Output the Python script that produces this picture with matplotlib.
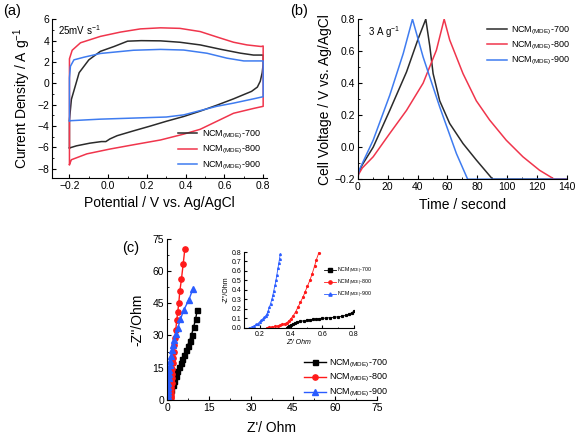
import matplotlib.pyplot as plt
import numpy as np
from matplotlib.ticker import MultipleLocator

plt.rcParams['font.family'] = ['Liberation Sans', 'DejaVu Sans']
plt.rcParams['mathtext.fontset'] = 'custom'
plt.rcParams['mathtext.rm'] = 'Liberation Sans'
plt.rcParams['mathtext.it'] = 'Liberation Sans:italic'
plt.rcParams['axes.linewidth'] = 0.8

# ---- colours / labels ----
names = ['NCM$_{\\rm (MDE)}$-700', 'NCM$_{\\rm (MDE)}$-800', 'NCM$_{\\rm (MDE)}$-900']
c_line = ['#2b2b2b', '#f0354c', '#3f7cf0']
c_mark = ['#000000', '#ff1a1a', '#2a5cff']

# ---- (a) CV at 25 mV/s : closed loops (potential, current) ----
cv700_x = [-0.2, -0.2, -0.19, -0.17, -0.15, -0.1, -0.04, 0.03, 0.1, 0.17, 0.27, 0.37, 0.475, 0.578, 0.682, 0.75, 0.8,
           0.8, 0.795, 0.785, 0.77, 0.74, 0.7, 0.647, 0.56, 0.475, 0.39, 0.30, 0.217, 0.13, 0.046, 0.009, -0.012,
           -0.035, -0.095, -0.164, -0.2]
cv700_y = [-6.05, -3.4, -1.5, -0.25, 1.0, 2.2, 3.0, 3.45, 3.95, 4.0, 3.98, 3.85, 3.6, 3.2, 2.83, 2.65, 2.65,
           1.8, 1.0, 0.2, -0.35, -0.75, -1.05, -1.45, -2.05, -2.6, -3.1, -3.55, -4.0, -4.45, -4.9, -5.2, -5.45,
           -5.45, -5.6, -5.85, -6.05]
cv800_x = [-0.2, -0.2, -0.186, -0.143, -0.04, 0.063, 0.166, 0.27, 0.37, 0.475, 0.56, 0.647, 0.716, 0.79, 0.8,
           0.8, 0.75, 0.647, 0.561, 0.475, 0.39, 0.27, 0.13, 0.009, -0.11, -0.19, -0.2]
cv800_y = [-7.6, 2.3, 3.1, 3.8, 4.4, 4.8, 5.1, 5.2, 5.15, 4.85, 4.35, 3.85, 3.6, 3.45, 3.5,
           -2.15, -2.35, -2.8, -3.55, -4.3, -4.75, -5.3, -5.75, -6.15, -6.6, -7.15, -7.6]
cv900_x = [-0.2, -0.2, -0.195, -0.177, -0.125, -0.04, 0.13, 0.27, 0.39, 0.51, 0.613, 0.70, 0.8,
           0.8, 0.75, 0.647, 0.56, 0.475, 0.39, 0.30, 0.13, -0.04, -0.2]
cv900_y = [-3.5, 0.5, 1.6, 2.2, 2.45, 2.8, 3.1, 3.18, 3.12, 2.82, 2.36, 2.1, 2.1,
           -1.25, -1.45, -1.85, -2.15, -2.55, -2.95, -3.15, -3.25, -3.35, -3.5]

# ---- (b) galvanostatic charge/discharge at 3 A/g ----
gcd700_t = [0, 0.5, 3, 10.3, 21.4, 32.6, 40.5, 45.5, 48.2, 50.4, 54.8, 61.5, 70.4, 79.3, 90.2, 140]
gcd700_v = [-0.2, -0.16, -0.11, 0.0, 0.23, 0.47, 0.68, 0.8, 0.63, 0.46, 0.29, 0.148, 0.023, -0.08, -0.2, -0.2]
gcd800_t = [0, 0.5, 3, 10.3, 21.4, 32.6, 43.7, 52.6, 57.8, 61.5, 70.4, 79.3, 88.2, 99.3, 110.5, 121.6, 131.5, 140]
gcd800_v = [-0.2, -0.17, -0.13, -0.06, 0.086, 0.23, 0.4, 0.606, 0.8, 0.67, 0.46, 0.29, 0.17, 0.044, -0.06, -0.144,
            -0.2, -0.2]
gcd900_t = [0, 0.5, 1.1, 10.3, 21.4, 30.4, 36.6, 43.7, 54.8, 66.0, 73.5, 140]
gcd900_v = [-0.2, -0.16, -0.14, 0.044, 0.325, 0.585, 0.8, 0.564, 0.252, -0.04, -0.2, -0.2]

# ---- (c) Nyquist plot (Z', -Z'') ----
eis700_x = [0.45, 0.72, 1.08, 1.56, 2.04, 2.64, 3.12, 3.72, 4.32, 4.92, 5.52, 6.12, 6.72, 7.32, 8.04, 8.76,
            9.48, 10.2, 10.8]
eis700_y = [0.0, 0.8, 2.3, 4.7, 7.0, 9.0, 11.2, 13.2, 15.2, 17.1, 18.9, 21.0, 23.0, 25.2, 27.6, 30.3,
            33.9, 37.6, 41.9]
eis800_x = [0.25, 1.0, 1.3, 1.35, 1.4, 1.45, 1.5, 1.6, 1.7, 1.8, 1.9, 2.05, 2.2, 2.4, 2.6, 2.85, 3.12, 3.48,
            3.84, 4.2, 4.56, 5.16, 5.76, 6.36]
eis800_y = [0.0, 0.2, 0.8, 1.8, 3.0, 4.5, 6.0, 8.0, 10.0, 12.2, 14.5, 17.0, 19.5, 22.5, 25.5, 29.0, 32.6, 37.3,
            41.1, 45.2, 50.5, 56.4, 63.2, 70.3]
eis900_x = [0.14, 0.2, 0.25, 0.3, 0.35, 0.4, 0.5, 0.6, 0.7, 0.8, 1.0, 1.2, 1.5, 1.8, 2.2, 2.6, 3.1, 3.84,
            4.8, 6.0, 7.8, 9.24]
eis900_y = [0.0, 1.0, 2.0, 3.0, 4.5, 6.0, 8.0, 10.0, 12.0, 14.0, 16.0, 18.0, 20.5, 23.0, 25.5, 28.0, 30.5, 33.4,
            37.6, 41.9, 46.6, 51.7]

# inset: high frequency region
in700_x = [0.375, 0.38, 0.39, 0.40, 0.41, 0.425, 0.44, 0.46, 0.48, 0.50, 0.52, 0.54, 0.56, 0.58, 0.60, 0.625,
           0.65, 0.675, 0.70, 0.725, 0.75, 0.77, 0.79, 0.80]
in700_y = [0.0, 0.008, 0.02, 0.03, 0.04, 0.05, 0.06, 0.068, 0.075, 0.08, 0.085, 0.089, 0.093, 0.097, 0.10, 0.104,
           0.108, 0.112, 0.117, 0.123, 0.132, 0.145, 0.162, 0.175]
in800_x = [0.245, 0.26, 0.28, 0.30, 0.32, 0.332, 0.345, 0.36, 0.374, 0.387, 0.40, 0.415, 0.43, 0.445, 0.46,
           0.478, 0.49, 0.505, 0.52, 0.535, 0.55, 0.562, 0.577]
in800_y = [0.0, 0.004, 0.01, 0.016, 0.022, 0.028, 0.036, 0.045, 0.055, 0.075, 0.098, 0.13, 0.17, 0.22, 0.27,
           0.33, 0.38, 0.44, 0.50, 0.57, 0.65, 0.72, 0.79]
in900_x = [0.135, 0.15, 0.165, 0.18, 0.19, 0.20, 0.21, 0.22, 0.23, 0.24, 0.248, 0.255, 0.262, 0.27, 0.278,
           0.285, 0.29, 0.298, 0.305, 0.31, 0.317, 0.322, 0.327, 0.332]
in900_y = [0.0, 0.01, 0.022, 0.036, 0.046, 0.063, 0.078, 0.095, 0.11, 0.13, 0.15, 0.18, 0.215, 0.256, 0.30,
           0.35, 0.39, 0.45, 0.51, 0.56, 0.63, 0.68, 0.73, 0.78]

fig = plt.figure(figsize=(5.78, 4.36), dpi=100)


def style(ax, fs=7.5):
    ax.spines['top'].set_visible(False)
    ax.spines['right'].set_visible(False)
    ax.tick_params(which='both', direction='in', labelsize=fs, pad=2)
    ax.tick_params(which='major', length=3, width=0.8)
    ax.tick_params(which='minor', length=1.6, width=0.6)


# ----- (a) -----
axa = fig.add_axes([0.090, 0.592, 0.372, 0.365])
axa.plot(cv700_x, cv700_y, color=c_line[0], lw=1.1, label=names[0])
axa.plot(cv800_x, cv800_y, color=c_line[1], lw=1.1, label=names[1])
axa.plot(cv900_x, cv900_y, color=c_line[2], lw=1.1, label=names[2])
axa.set_xlim(-0.29, 0.82)
axa.set_ylim(-8.85, 6.05)
axa.xaxis.set_major_locator(MultipleLocator(0.2))
axa.xaxis.set_minor_locator(MultipleLocator(0.1))
axa.yaxis.set_major_locator(MultipleLocator(2))
axa.yaxis.set_minor_locator(MultipleLocator(1))
style(axa)
axa.set_xlabel('Potential / V vs. Ag/AgCl', fontsize=10, labelpad=4)
axa.set_ylabel('Current Density / A g$^{-1}$', fontsize=10, labelpad=3)
axa.text(0.03, 0.97, '25mV s$^{-1}$', transform=axa.transAxes, fontsize=7, va='top')
axa.legend(loc='lower right', fontsize=6.5, frameon=False, handlelength=2.2, labelspacing=0.35,
           borderaxespad=0.3, handletextpad=0.5)

# ----- (b) -----
axb = fig.add_axes([0.619, 0.589, 0.362, 0.367])
axb.plot(gcd700_t, gcd700_v, color=c_line[0], lw=1.1, label=names[0])
axb.plot(gcd800_t, gcd800_v, color=c_line[1], lw=1.1, label=names[1])
axb.plot(gcd900_t, gcd900_v, color=c_line[2], lw=1.1, label=names[2])
axb.set_xlim(0, 140)
axb.set_ylim(-0.2, 0.8)
axb.xaxis.set_major_locator(MultipleLocator(20))
axb.xaxis.set_minor_locator(MultipleLocator(10))
axb.yaxis.set_major_locator(MultipleLocator(0.2))
axb.yaxis.set_minor_locator(MultipleLocator(0.1))
style(axb)
axb.set_xlabel('Time / second', fontsize=10, labelpad=4)
axb.set_ylabel('Cell Voltage / V vs. Ag/AgCl', fontsize=10, labelpad=2)
axb.text(0.05, 0.97, '3 A g$^{-1}$', transform=axb.transAxes, fontsize=7, va='top')
axb.legend(loc='upper right', fontsize=6.5, frameon=False, handlelength=2.2, labelspacing=0.35,
           borderaxespad=0.2, handletextpad=0.5, bbox_to_anchor=(1.04, 1.0))

# ----- (c) -----
axc = fig.add_axes([0.289, 0.083, 0.363, 0.369])
axc.plot(eis700_x, eis700_y, color=c_mark[0], lw=1.0, marker='s', ms=3.6, label=names[0])
axc.plot(eis800_x, eis800_y, color=c_mark[1], lw=1.0, marker='o', ms=3.8, label=names[1])
axc.plot(eis900_x, eis900_y, color=c_mark[2], lw=1.0, marker='^', ms=3.8, label=names[2])
axc.set_xlim(0, 75)
axc.set_ylim(0, 75)
axc.xaxis.set_major_locator(MultipleLocator(15))
axc.xaxis.set_minor_locator(MultipleLocator(7.5))
axc.yaxis.set_major_locator(MultipleLocator(15))
axc.yaxis.set_minor_locator(MultipleLocator(7.5))
style(axc)
axc.set_xlabel("Z'/ Ohm", fontsize=10, labelpad=6)
axc.set_ylabel("-Z''/Ohm", fontsize=10, labelpad=6)
axc.legend(loc='lower right', fontsize=6.5, frameon=False, handlelength=2.4, labelspacing=0.3,
           borderaxespad=0.2, handletextpad=0.4, bbox_to_anchor=(1.08, -0.03))

# inset
axi = fig.add_axes([0.422, 0.248, 0.190, 0.174])
axi.plot(in700_x, in700_y, color=c_mark[0], lw=0.6, marker='s', ms=1.3, label=names[0])
axi.plot(in800_x, in800_y, color=c_mark[1], lw=0.6, marker='o', ms=1.3, label=names[1])
axi.plot(in900_x, in900_y, color=c_mark[2], lw=0.6, marker='^', ms=1.3, label=names[2])
axi.set_xlim(0.1, 0.8)
axi.set_ylim(0, 0.8)
axi.xaxis.set_major_locator(MultipleLocator(0.2))
axi.xaxis.set_minor_locator(MultipleLocator(0.1))
axi.yaxis.set_major_locator(MultipleLocator(0.1))
style(axi, fs=5)
axi.tick_params(which='major', length=2)
axi.tick_params(which='minor', length=1)
axi.set_xlabel("Z'/ Ohm", fontsize=5, labelpad=1, style='italic')
axi.set_ylabel("-Z''/Ohm", fontsize=5, labelpad=1)
axi.legend(loc='upper right', fontsize=3.8, frameon=False, handlelength=2.2, labelspacing=0.3,
           borderaxespad=0.2, handletextpad=0.3, markerscale=1.8, bbox_to_anchor=(1.2, 0.86))

fig.text(0.006, 0.99, '(a)', fontsize=10.5, va='top')
fig.text(0.502, 0.99, '(b)', fontsize=10.5, va='top')
fig.text(0.212, 0.448, '(c)', fontsize=10.5, va='top')

plt.savefig('out.png', dpi=100)
